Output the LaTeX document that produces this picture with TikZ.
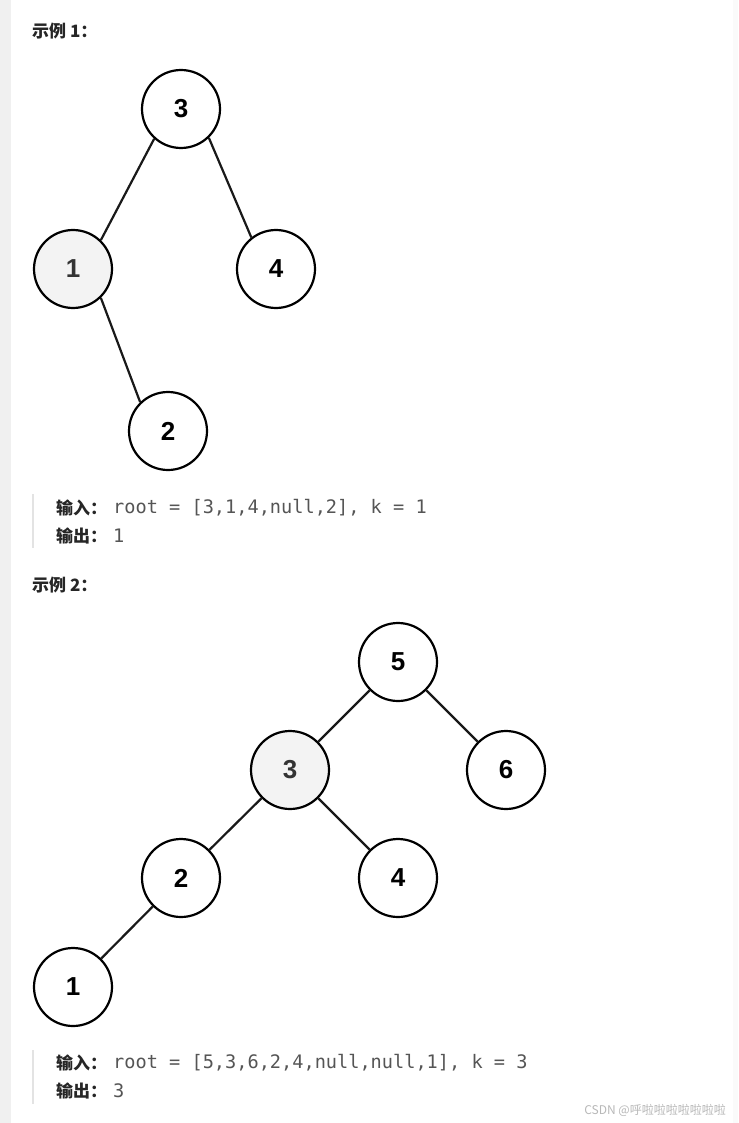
\documentclass[tikz,border=0pt]{standalone}
\usepackage{fontspec}
\setmainfont{Liberation Sans}
\newfontfamily\cjk{Noto Sans CJK SC}
\newfontfamily\codefont{DejaVu Sans Mono}
\definecolor{hlgray}{HTML}{F3F3F3}
\definecolor{stripgray}{HTML}{F0F0F0}
\definecolor{quotegray}{HTML}{E3E3E3}
\definecolor{codegray}{HTML}{555555}
\definecolor{headblack}{HTML}{262626}
\definecolor{wmgray}{HTML}{B8B8B8}
\begin{document}
\begin{tikzpicture}[x=1pt,y=-1pt,
  tnode/.style={circle,draw=black,line width=2.2pt,minimum size=78pt,inner sep=0pt,fill=white,
    font=\fontsize{26}{26}\selectfont\bfseries},
  hlnode/.style={tnode,fill=hlgray,text=black!80},
  treeline/.style={line width=2.2pt,draw=black!90},
  heading/.style={anchor=west,inner sep=0pt,text=headblack,font=\cjk\bfseries\fontsize{17}{17}\selectfont},
  codetext/.style={anchor=west,inner sep=0pt,text=codegray,font=\codefont\fontsize{18.6}{18.6}\selectfont},
  quotebar/.style={fill=quotegray,draw=none}]
\useasboundingbox (0,0) rectangle (738,1123);
\fill[white] (0,0) rectangle (738,1123);
\fill[stripgray] (0,0) rectangle (11,1123);
\fill[black!2] (733,0) rectangle (738,1123);

% Example 1
\node[heading] (h1) at (32,31) {示例 1：};
\node[tnode] (a3) at (181,109) {3};
\node[hlnode] (a1) at (73,269) {1};
\node[tnode] (a4) at (276,269) {4};
\node[tnode] (a2) at (168,431) {2};
\draw[treeline] (a3.228) -- (a1.46);
\draw[treeline] (a3.314) -- (a4.128);
\draw[treeline] (a1.314) -- (a2.134);

\fill[quotegray] (32,494) rectangle (34,548);
\node[heading] (in1) at (56,508) {输入：};
\node[codetext] (c1) at (113,508) {root = [3,1,4,null,2], k = 1};
\node[heading] (out1) at (56,536) {输出：};
\node[codetext] (o1) at (113,536) {1};

% Example 2
\node[heading] (h2) at (32,585) {示例 2：};
\node[tnode] (b5) at (398,662) {5};
\node[hlnode] (b3) at (290,770) {3};
\node[tnode] (b6) at (506,770) {6};
\node[tnode] (b2) at (181,878) {2};
\node[tnode] (b4) at (398,878) {4};
\node[tnode] (b1) at (73,987) {1};
\draw[treeline] (b5) -- (b3);
\draw[treeline] (b5) -- (b6);
\draw[treeline] (b3) -- (b2);
\draw[treeline] (b3) -- (b4);
\draw[treeline] (b2) -- (b1);

\fill[quotegray] (32,1050) rectangle (34,1104);
\node[heading] (in2) at (56,1063) {输入：};
\node[codetext] (c2) at (113,1063) {root = [5,3,6,2,4,null,null,1], k = 3};
\node[heading] (out2) at (56,1091) {输出：};
\node[codetext] (o2) at (113,1091) {3};

\node[anchor=east,inner sep=0pt,text=wmgray,font=\cjk\fontsize{12}{12}\selectfont] (wm) at (726,1110) {CSDN @呼啦啦啦啦啦啦啦};
\end{tikzpicture}
\end{document}
